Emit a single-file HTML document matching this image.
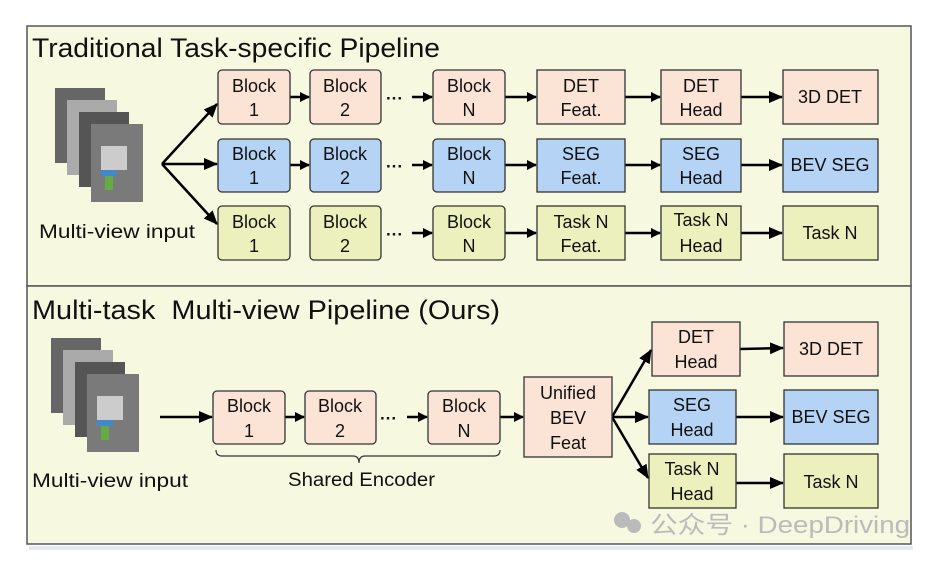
<!DOCTYPE html>
<html><head><style>
body{margin:0;background:#fff;width:942px;height:562px;overflow:hidden}
text{font-family:"Liberation Sans","Noto Sans CJK SC",sans-serif}
</style></head><body>
<svg width="942" height="562" xmlns="http://www.w3.org/2000/svg">
<defs>
<marker id="a" markerWidth="10" markerHeight="10" refX="9" refY="5" orient="auto" markerUnits="userSpaceOnUse"><path d="M0,0 L10,5 L0,10 Z" fill="#000"/></marker>
<marker id="b" markerWidth="14" markerHeight="12" refX="13" refY="6" orient="auto" markerUnits="userSpaceOnUse"><path d="M0,0 L14,6 L0,12 Z" fill="#000"/></marker>
<g id="img">
<rect x="0" y="0" width="50" height="75" fill="#666"/>
<rect x="12" y="12" width="50" height="75" fill="#aaa"/>
<rect x="24" y="24" width="50" height="75" fill="#555"/>
<rect x="36" y="36" width="52" height="78" fill="#7a7a7a"/>
<rect x="46" y="58" width="26" height="24" fill="#ccc"/>
<rect x="46" y="82" width="16" height="6" fill="#48c"/>
<rect x="50" y="88" width="8" height="14" fill="#6a4"/>
</g>
</defs>
<rect x="29" y="546" width="884" height="4" fill="#e4eaf2"/>
<rect x="27" y="26" width="884" height="260" fill="#f6f8e0" stroke="#555" stroke-width="1.5"/>
<rect x="27" y="286" width="884" height="258" fill="#f6f8e0" stroke="#555" stroke-width="1.5"/>
<g font-size="27" fill="#111"><text x="32" y="57" textLength="408" lengthAdjust="spacingAndGlyphs">Traditional Task-specific Pipeline</text>
<text x="32" y="319" textLength="468" lengthAdjust="spacingAndGlyphs" xml:space="preserve">Multi-task  Multi-view Pipeline (Ours)</text></g>
<use href="#img" x="55" y="88"/>
<use href="#img" x="51" y="338"/>
<g font-size="19" fill="#111"><text x="39" y="238" textLength="156" lengthAdjust="spacingAndGlyphs">Multi-view input</text><text x="32" y="487" textLength="156" lengthAdjust="spacingAndGlyphs">Multi-view input</text>
<text x="288" y="486" textLength="147" lengthAdjust="spacingAndGlyphs">Shared Encoder</text></g>
<g stroke="#000" stroke-width="2.5" fill="none" marker-end="url(#b)">
<line x1="162" y1="164" x2="217" y2="104"/><line x1="162" y1="164" x2="217" y2="164"/><line x1="162" y1="164" x2="217" y2="224"/>
<line x1="160" y1="417" x2="212" y2="417"/>
<line x1="612" y1="417" x2="651" y2="350"/><line x1="612" y1="417" x2="648" y2="417"/><line x1="612" y1="417" x2="648" y2="478"/>
</g>
<g stroke="#000" stroke-width="2.5" fill="none" marker-end="url(#a)">
<line x1="290" y1="97" x2="309" y2="97"/><line x1="290" y1="165" x2="309" y2="165"/>
<line x1="412" y1="97" x2="432" y2="97"/><line x1="412" y1="165" x2="432" y2="165"/><line x1="412" y1="233" x2="432" y2="233"/>
<line x1="505" y1="97" x2="536" y2="97"/><line x1="505" y1="165" x2="536" y2="165"/><line x1="505" y1="233" x2="536" y2="233"/>
<line x1="625" y1="97" x2="660" y2="97"/><line x1="625" y1="165" x2="660" y2="165"/><line x1="625" y1="233" x2="660" y2="233"/>
<line x1="285" y1="417" x2="304" y2="417"/><line x1="407" y1="417" x2="427" y2="417"/><line x1="500" y1="417" x2="523" y2="417"/>
</g>
<g stroke="#000" stroke-width="2.5" fill="none" marker-end="url(#b)">
<line x1="741" y1="97" x2="782" y2="97"/><line x1="741" y1="165" x2="782" y2="165"/><line x1="741" y1="233" x2="782" y2="233"/>
<line x1="740" y1="349" x2="783" y2="348"/><line x1="736" y1="417" x2="783" y2="417"/><line x1="736" y1="483" x2="783" y2="483"/>
</g>
<g font-size="17" fill="#111" font-weight="bold"><text x="386" y="104">···</text><text x="386" y="172">···</text><text x="386" y="240">···</text><text x="380" y="424">···</text></g>
<path d="M216,450 q0,6 6,6 h131 q6,0 6,7 q0,-7 6,-7 h129 q6,0 6,-6" fill="none" stroke="#333" stroke-width="1.2"/>
<g stroke="#333" stroke-width="1.3" fill="#111">
<g fill="#fbe3d6"><rect x="218" y="70" width="72" height="54" rx="4"/><rect x="310" y="70" width="71" height="54" rx="4"/><rect x="433" y="70" width="72" height="54" rx="4"/><rect x="537" y="70" width="88" height="54"/><rect x="661" y="70" width="80" height="54"/><rect x="783" y="70" width="95" height="54"/>
<rect x="213" y="391" width="72" height="53" rx="4"/><rect x="305" y="391" width="71" height="53" rx="4"/><rect x="428" y="391" width="72" height="53" rx="4"/><rect x="524" y="377" width="88" height="80"/><rect x="652" y="322" width="88" height="54"/><rect x="784" y="322" width="94" height="54"/></g>
<g fill="#b4d3f5"><rect x="218" y="139" width="72" height="53" rx="4"/><rect x="310" y="139" width="71" height="53" rx="4"/><rect x="433" y="139" width="72" height="53" rx="4"/><rect x="537" y="139" width="88" height="53"/><rect x="661" y="139" width="80" height="53"/><rect x="783" y="139" width="95" height="53"/>
<rect x="649" y="390" width="87" height="54"/><rect x="784" y="390" width="94" height="54"/></g>
<g fill="#ebf0bc"><rect x="218" y="206" width="72" height="54" rx="4"/><rect x="310" y="206" width="71" height="54" rx="4"/><rect x="433" y="206" width="72" height="54" rx="4"/><rect x="537" y="206" width="88" height="54"/><rect x="661" y="206" width="80" height="54"/><rect x="783" y="206" width="95" height="54"/>
<rect x="649" y="454" width="87" height="54"/><rect x="784" y="454" width="94" height="54"/></g>
</g>
<g font-size="18" fill="#111" text-anchor="middle">
<text x="254" y="92">Block</text><text x="254" y="116">1</text><text x="345" y="92">Block</text><text x="345" y="116">2</text><text x="469" y="92">Block</text><text x="469" y="116">N</text>
<text x="581" y="92">DET</text><text x="581" y="116">Feat.</text><text x="701" y="92">DET</text><text x="701" y="116">Head</text><text x="830" y="103">3D DET</text>
<text x="254" y="160">Block</text><text x="254" y="184">1</text><text x="345" y="160">Block</text><text x="345" y="184">2</text><text x="469" y="160">Block</text><text x="469" y="184">N</text>
<text x="581" y="160">SEG</text><text x="581" y="184">Feat.</text><text x="701" y="160">SEG</text><text x="701" y="184">Head</text><text x="830" y="171">BEV SEG</text>
<text x="254" y="228">Block</text><text x="254" y="252">1</text><text x="345" y="228">Block</text><text x="345" y="252">2</text><text x="469" y="228">Block</text><text x="469" y="252">N</text>
<text x="581" y="228">Task N</text><text x="581" y="252">Feat.</text><text x="701" y="226">Task N</text><text x="701" y="252">Head</text><text x="830" y="239">Task N</text>
<text x="249" y="412">Block</text><text x="249" y="437">1</text><text x="340" y="412">Block</text><text x="340" y="437">2</text><text x="464" y="412">Block</text><text x="464" y="437">N</text>
<text x="568" y="399">Unified</text><text x="568" y="424">BEV</text><text x="568" y="449">Feat</text>
<text x="696" y="343">DET</text><text x="696" y="368">Head</text><text x="831" y="355">3D DET</text>
<text x="692" y="411">SEG</text><text x="692" y="436">Head</text><text x="831" y="423">BEV SEG</text>
<text x="692" y="475">Task N</text><text x="692" y="500">Head</text><text x="831" y="488">Task N</text>
</g>
<g fill="#bbb"><circle cx="622" cy="520" r="8"/><circle cx="634" cy="526" r="7"/></g>
<text x="650" y="533" font-size="24" fill="#bbb" textLength="260" lengthAdjust="spacingAndGlyphs">公众号 · DeepDriving</text>
</svg>
</body></html>
